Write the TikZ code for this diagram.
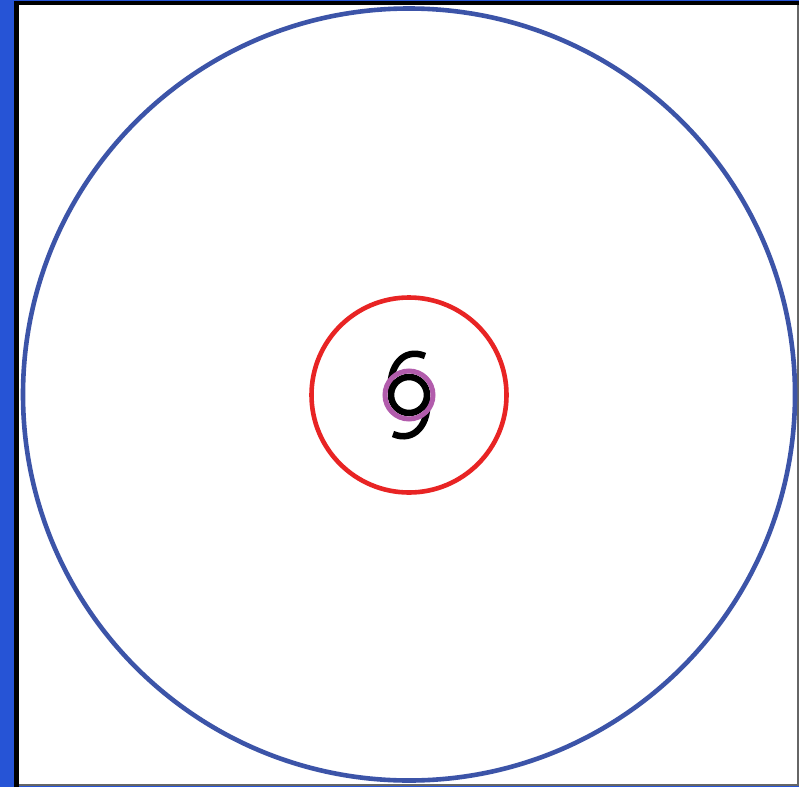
\documentclass[tikz,border=0pt]{standalone}
\usepackage{tikz}
\usetikzlibrary{arrows.meta, positioning}
\usepackage{xcolor}

\definecolor{frameblue}{RGB}{38,84,214}
\definecolor{outerblue}{RGB}{60,84,168}
\definecolor{zonered}{RGB}{232,36,36}
\definecolor{eyepurple}{RGB}{178,92,172}

\begin{document}
\begin{tikzpicture}[x=1pt, y=-1pt, ring/.style={line width=4.6pt}, swirl/.style={line width=6.5pt, line cap=butt}]
    \useasboundingbox (0,0) rectangle (799,787);
    % window frame
    \fill[frameblue] (0,0) rectangle (799,787);
    \fill[white] (14,1) rectangle (798,786);
    \draw[gray!80!black, line width=2pt] (19,785) -- (797.5,785) -- (797.5,5);
    \draw[black, line width=4.5pt] (16.5,787) -- (16.5,3.2) -- (799,3.2);
    \coordinate (eye) at (409,395);
    % circles
    \draw[ring, outerblue] (409,394.5) circle[radius=386];
    \draw[ring, zonered] (eye) circle[radius=97.5];
    % cyclone symbol
    \draw[swirl] (eye) circle[radius=18];
    \draw[swirl] (391,392) .. controls (388,366) and (404,347) .. (425,356);
    \draw[swirl] (427,398) .. controls (430,424) and (414,443) .. (393,434);
    \draw[eyepurple, line width=5pt] (eye) circle[radius=24];
\end{tikzpicture}
\end{document}
